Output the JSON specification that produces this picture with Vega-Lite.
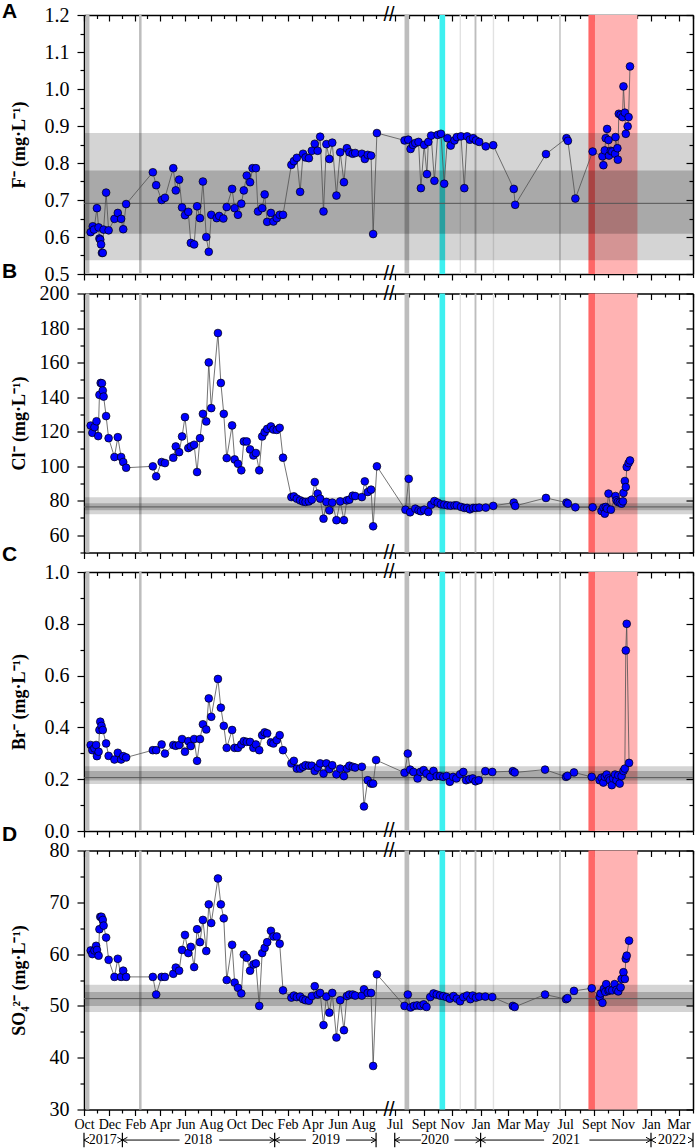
{
"$schema": "https://vega.github.io/schema/vega-lite/v6.json",
"padding": {"left": 2, "top": 1, "right": 4, "bottom": 0},
"config": {
  "view": {"stroke": null},
  "font": "Liberation Serif",
  "axis": {"grid": false, "domainColor": "black", "domainWidth": 1.5, "tickColor": "black", "tickWidth": 1.2, "labelFont": "Liberation Serif", "labelFontSize": 20, "labelColor": "black", "labelPadding": 8, "labelOverlap": false, "labelFlush": false, "labelBound": false, "titleFont": "Liberation Serif", "titleFontSize": 18, "titleFontWeight": "bold", "titleColor": "black"}
},
"datasets": {
"bands": [
 {"start":"2017-10-05","end":"2017-10-14","kind":"gray"},
 {"start":"2018-02-10","end":"2018-02-16","kind":"gray"},
 {"start":"2020-07-22","end":"2020-08-01","kind":"gray"},
 {"start":"2020-10-05","end":"2020-10-17","kind":"cyan"},
 {"start":"2020-11-17","end":"2020-11-20","kind":"faint"},
 {"start":"2020-12-19","end":"2020-12-23","kind":"gray"},
 {"start":"2021-01-27","end":"2021-01-30","kind":"faint"},
 {"start":"2021-06-18","end":"2021-06-22","kind":"light"},
 {"start":"2021-08-20","end":"2021-09-03","kind":"red"},
 {"start":"2021-09-03","end":"2021-12-03","kind":"pink"}
],
"years": [
 {"year":"2017","mid":"2017-11-15"},{"year":"2018","mid":"2018-07-02"},{"year":"2019","mid":"2019-05-04"},
 {"year":"2020","mid":"2020-09-25"},{"year":"2021","mid":"2021-07-03"},{"year":"2022","mid":"2022-02-15"}
],
"arrows": [
 {"tip":"2017-10-01","tail":"2017-10-04","dir":"left"},{"tip":"2018-01-01","tail":"2017-12-29","dir":"right"},
 {"tip":"2018-01-01","tail":"2018-05-18","dir":"left"},{"tip":"2019-01-01","tail":"2018-08-21","dir":"right"},
 {"tip":"2019-01-01","tail":"2019-03-17","dir":"left"},{"tip":"2019-09-01","tail":"2019-06-21","dir":"right"},
 {"tip":"2020-07-01","tail":"2020-08-26","dir":"left"},{"tip":"2021-01-01","tail":"2020-11-06","dir":"right"},
 {"tip":"2021-01-01","tail":"2021-05-17","dir":"left"},{"tip":"2022-01-01","tail":"2021-08-22","dir":"right"},
 {"tip":"2022-01-01","tail":"2022-01-04","dir":"left"},{"tip":"2022-04-01","tail":"2022-03-29","dir":"right"}
],
"bounds": [
 {"at":"2017-10-01"},{"at":"2018-01-01"},{"at":"2019-01-01"},{"at":"2019-09-01"},
 {"at":"2020-07-01"},{"at":"2021-01-01"},{"at":"2022-01-01"},{"at":"2022-04-01"}
],
"F": [
{"date":"2017-10-17","value":0.613},{"date":"2017-10-22","value":0.629},{"date":"2017-10-25","value":0.620},{"date":"2017-11-01","value":0.678},
{"date":"2017-11-05","value":0.626},{"date":"2017-11-07","value":0.596},{"date":"2017-11-09","value":0.593},{"date":"2017-11-11","value":0.580},
{"date":"2017-11-13","value":0.557},{"date":"2017-11-15","value":0.557},{"date":"2017-11-17","value":0.620},{"date":"2017-11-23","value":0.720},
{"date":"2017-11-29","value":0.618},{"date":"2017-12-13","value":0.649},{"date":"2017-12-21","value":0.665},{"date":"2017-12-29","value":0.649},
{"date":"2018-01-03","value":0.621},{"date":"2018-01-10","value":0.689},{"date":"2018-03-15","value":0.775},{"date":"2018-03-23","value":0.740},
{"date":"2018-04-05","value":0.700},{"date":"2018-04-13","value":0.706},{"date":"2018-05-03","value":0.786},{"date":"2018-05-09","value":0.726},
{"date":"2018-05-17","value":0.755},{"date":"2018-05-24","value":0.680},{"date":"2018-05-31","value":0.659},{"date":"2018-06-08","value":0.668},
{"date":"2018-06-14","value":0.584},{"date":"2018-06-22","value":0.580},{"date":"2018-06-29","value":0.683},{"date":"2018-07-06","value":0.651},
{"date":"2018-07-13","value":0.750},{"date":"2018-07-21","value":0.600},{"date":"2018-07-27","value":0.560},{"date":"2018-08-02","value":0.660},
{"date":"2018-08-15","value":0.651},{"date":"2018-08-21","value":0.657},{"date":"2018-08-31","value":0.650},{"date":"2018-09-08","value":0.681},
{"date":"2018-09-21","value":0.730},{"date":"2018-09-27","value":0.678},{"date":"2018-10-05","value":0.660},{"date":"2018-10-13","value":0.690},
{"date":"2018-10-19","value":0.726},{"date":"2018-10-26","value":0.766},{"date":"2018-11-03","value":0.748},{"date":"2018-11-09","value":0.786},
{"date":"2018-11-17","value":0.786},{"date":"2018-11-22","value":0.669},{"date":"2018-12-02","value":0.678},{"date":"2018-12-08","value":0.715},
{"date":"2018-12-14","value":0.641},{"date":"2018-12-23","value":0.665},{"date":"2018-12-29","value":0.642},{"date":"2019-01-06","value":0.651},
{"date":"2019-01-13","value":0.660},{"date":"2019-01-21","value":0.660},{"date":"2019-02-10","value":0.795},{"date":"2019-02-16","value":0.805},
{"date":"2019-02-23","value":0.814},{"date":"2019-03-03","value":0.722},{"date":"2019-03-10","value":0.825},{"date":"2019-03-16","value":0.815},
{"date":"2019-03-24","value":0.813},{"date":"2019-03-31","value":0.833},{"date":"2019-04-07","value":0.852},{"date":"2019-04-14","value":0.833},
{"date":"2019-04-20","value":0.871},{"date":"2019-04-28","value":0.669},{"date":"2019-05-05","value":0.851},{"date":"2019-05-12","value":0.811},
{"date":"2019-05-19","value":0.855},{"date":"2019-05-29","value":0.712},{"date":"2019-06-07","value":0.829},{"date":"2019-06-16","value":0.748},
{"date":"2019-06-23","value":0.840},{"date":"2019-06-29","value":0.829},{"date":"2019-07-07","value":0.825},{"date":"2019-07-13","value":0.827},
{"date":"2019-07-29","value":0.825},{"date":"2019-08-05","value":0.811},{"date":"2019-08-12","value":0.822},{"date":"2019-08-20","value":0.820},
{"date":"2019-08-25","value":0.608},{"date":"2019-09-03","value":0.881},
{"date":"2020-07-22","value":0.861},{"date":"2020-07-30","value":0.863},{"date":"2020-08-04","value":0.838},{"date":"2020-08-09","value":0.849},
{"date":"2020-08-14","value":0.854},{"date":"2020-08-21","value":0.857},{"date":"2020-08-26","value":0.732},{"date":"2020-09-02","value":0.849},
{"date":"2020-09-08","value":0.770},{"date":"2020-09-11","value":0.857},{"date":"2020-09-17","value":0.874},{"date":"2020-09-24","value":0.752},
{"date":"2020-10-01","value":0.876},{"date":"2020-10-08","value":0.879},{"date":"2020-10-15","value":0.744},{"date":"2020-10-22","value":0.867},
{"date":"2020-10-29","value":0.847},{"date":"2020-11-06","value":0.861},{"date":"2020-11-11","value":0.870},{"date":"2020-11-20","value":0.872},
{"date":"2020-11-27","value":0.732},{"date":"2020-12-03","value":0.872},{"date":"2020-12-09","value":0.863},{"date":"2020-12-16","value":0.867},
{"date":"2020-12-22","value":0.861},{"date":"2020-12-29","value":0.857},{"date":"2021-01-12","value":0.845},{"date":"2021-01-28","value":0.848},
{"date":"2021-03-13","value":0.730},{"date":"2021-03-16","value":0.687},{"date":"2021-05-21","value":0.824},{"date":"2021-07-04","value":0.867},
{"date":"2021-07-07","value":0.860},{"date":"2021-07-23","value":0.704},{"date":"2021-08-29","value":0.831},{"date":"2021-09-19","value":0.818},
{"date":"2021-09-21","value":0.794},{"date":"2021-09-24","value":0.834},{"date":"2021-09-26","value":0.867},{"date":"2021-09-29","value":0.892},
{"date":"2021-10-02","value":0.862},{"date":"2021-10-03","value":0.820},{"date":"2021-10-07","value":0.833},{"date":"2021-10-10","value":0.831},
{"date":"2021-10-16","value":0.825},{"date":"2021-10-17","value":0.870},{"date":"2021-10-21","value":0.840},{"date":"2021-10-22","value":0.809},
{"date":"2021-10-24","value":0.933},{"date":"2021-10-28","value":0.930},{"date":"2021-11-01","value":0.924},{"date":"2021-11-03","value":1.007},
{"date":"2021-11-06","value":0.936},{"date":"2021-11-08","value":0.879},{"date":"2021-11-12","value":0.899},{"date":"2021-11-14","value":0.924},
{"date":"2021-11-17","value":1.061}
],
"Cl": [
{"date":"2017-10-17","value":123.5},{"date":"2017-10-21","value":119.3},{"date":"2017-10-26","value":122.6},{"date":"2017-10-31","value":126.0},
{"date":"2017-11-04","value":117.4},{"date":"2017-11-07","value":141.3},{"date":"2017-11-10","value":148.2},{"date":"2017-11-13","value":148.0},
{"date":"2017-11-15","value":143.8},{"date":"2017-11-17","value":140.3},{"date":"2017-11-23","value":129.0},{"date":"2017-11-29","value":116.2},
{"date":"2017-12-13","value":105.3},{"date":"2017-12-21","value":116.8},{"date":"2017-12-29","value":105.3},{"date":"2018-01-03","value":102.4},
{"date":"2018-01-10","value":99.1},{"date":"2018-03-15","value":99.9},{"date":"2018-03-23","value":94.1},{"date":"2018-04-05","value":102.4},
{"date":"2018-04-13","value":101.8},{"date":"2018-05-03","value":104.9},{"date":"2018-05-09","value":111.4},{"date":"2018-05-17","value":108.1},
{"date":"2018-05-24","value":117.2},{"date":"2018-05-31","value":128.4},{"date":"2018-06-08","value":110.5},{"date":"2018-06-14","value":111.4},
{"date":"2018-06-22","value":112.4},{"date":"2018-06-29","value":96.6},{"date":"2018-07-06","value":116.2},{"date":"2018-07-13","value":130.3},
{"date":"2018-07-21","value":125.9},{"date":"2018-07-27","value":160.1},{"date":"2018-08-02","value":133.6},{"date":"2018-08-18","value":177.1},
{"date":"2018-08-25","value":148.2},{"date":"2018-09-01","value":130.3},{"date":"2018-09-08","value":104.7},{"date":"2018-09-21","value":123.6},
{"date":"2018-09-27","value":103.9},{"date":"2018-10-05","value":101.4},{"date":"2018-10-13","value":97.6},{"date":"2018-10-19","value":114.3},
{"date":"2018-10-26","value":114.3},{"date":"2018-11-03","value":109.7},{"date":"2018-11-11","value":106.2},{"date":"2018-11-17","value":107.6},
{"date":"2018-11-25","value":97.6},{"date":"2018-12-02","value":117.2},{"date":"2018-12-08","value":119.7},{"date":"2018-12-14","value":121.6},
{"date":"2018-12-23","value":123.0},{"date":"2018-12-29","value":121.2},{"date":"2019-01-06","value":121.0},{"date":"2019-01-13","value":122.2},
{"date":"2019-01-21","value":104.9},{"date":"2019-02-10","value":82.1},{"date":"2019-02-16","value":82.5},{"date":"2019-02-23","value":81.2},
{"date":"2019-03-03","value":80.2},{"date":"2019-03-10","value":79.5},{"date":"2019-03-16","value":79.3},{"date":"2019-03-24","value":79.6},
{"date":"2019-03-31","value":80.6},{"date":"2019-04-07","value":90.8},{"date":"2019-04-14","value":84.1},{"date":"2019-04-20","value":81.2},
{"date":"2019-04-28","value":69.6},{"date":"2019-05-05","value":79.3},{"date":"2019-05-12","value":74.4},{"date":"2019-05-19","value":78.9},
{"date":"2019-05-29","value":68.7},{"date":"2019-06-07","value":79.6},{"date":"2019-06-16","value":68.7},{"date":"2019-06-23","value":80.2},
{"date":"2019-06-29","value":80.6},{"date":"2019-07-07","value":82.9},{"date":"2019-07-13","value":82.7},{"date":"2019-07-29","value":82.1},
{"date":"2019-08-05","value":91.2},{"date":"2019-08-12","value":85.0},{"date":"2019-08-20","value":86.4},{"date":"2019-08-25","value":65.2},
{"date":"2019-09-03","value":99.9},
{"date":"2020-07-24","value":74.8},{"date":"2020-07-31","value":92.7},{"date":"2020-08-03","value":73.3},{"date":"2020-08-14","value":75.4},
{"date":"2020-08-21","value":74.4},{"date":"2020-08-26","value":73.9},{"date":"2020-09-02","value":74.8},{"date":"2020-09-11","value":73.5},
{"date":"2020-09-17","value":77.7},{"date":"2020-09-24","value":79.8},{"date":"2020-10-01","value":78.9},{"date":"2020-10-08","value":77.9},
{"date":"2020-10-15","value":77.7},{"date":"2020-10-22","value":77.3},{"date":"2020-10-29","value":77.1},{"date":"2020-11-06","value":77.3},
{"date":"2020-11-11","value":77.3},{"date":"2020-11-20","value":76.4},{"date":"2020-11-27","value":75.8},{"date":"2020-12-03","value":75.8},
{"date":"2020-12-09","value":75.0},{"date":"2020-12-16","value":75.8},{"date":"2020-12-22","value":75.8},{"date":"2020-12-29","value":76.0},
{"date":"2021-01-12","value":76.0},{"date":"2021-01-28","value":77.0},{"date":"2021-03-13","value":78.9},{"date":"2021-03-16","value":77.0},
{"date":"2021-05-21","value":81.6},{"date":"2021-07-04","value":78.9},{"date":"2021-07-07","value":78.3},{"date":"2021-07-23","value":76.2},
{"date":"2021-08-29","value":76.2},{"date":"2021-09-17","value":74.0},{"date":"2021-09-21","value":76.0},{"date":"2021-09-24","value":72.5},
{"date":"2021-09-26","value":76.4},{"date":"2021-09-29","value":75.4},{"date":"2021-10-02","value":84.1},{"date":"2021-10-07","value":74.8},
{"date":"2021-10-17","value":82.7},{"date":"2021-10-19","value":80.2},{"date":"2021-10-22","value":79.3},{"date":"2021-10-26","value":78.9},
{"date":"2021-10-30","value":78.3},{"date":"2021-11-02","value":79.6},{"date":"2021-11-03","value":84.5},{"date":"2021-11-06","value":91.4},
{"date":"2021-11-08","value":87.9},{"date":"2021-11-10","value":99.5},{"date":"2021-11-14","value":101.8},{"date":"2021-11-17","value":103.3}
],
"Br": [
{"date":"2017-10-17","value":0.332},{"date":"2017-10-21","value":0.312},{"date":"2017-10-26","value":0.319},{"date":"2017-10-30","value":0.332},
{"date":"2017-11-01","value":0.289},{"date":"2017-11-05","value":0.306},{"date":"2017-11-07","value":0.390},{"date":"2017-11-09","value":0.422},
{"date":"2017-11-12","value":0.406},{"date":"2017-11-15","value":0.390},{"date":"2017-11-23","value":0.338},{"date":"2017-11-29","value":0.290},
{"date":"2017-12-13","value":0.276},{"date":"2017-12-21","value":0.302},{"date":"2017-12-29","value":0.276},{"date":"2018-01-03","value":0.289},
{"date":"2018-01-10","value":0.284},{"date":"2018-03-15","value":0.312},{"date":"2018-03-23","value":0.312},{"date":"2018-04-05","value":0.334},
{"date":"2018-04-13","value":0.299},{"date":"2018-05-03","value":0.332},{"date":"2018-05-09","value":0.329},{"date":"2018-05-17","value":0.332},
{"date":"2018-05-24","value":0.355},{"date":"2018-05-31","value":0.306},{"date":"2018-06-08","value":0.347},{"date":"2018-06-14","value":0.328},
{"date":"2018-06-22","value":0.355},{"date":"2018-06-29","value":0.271},{"date":"2018-07-06","value":0.355},{"date":"2018-07-13","value":0.412},
{"date":"2018-07-21","value":0.392},{"date":"2018-07-27","value":0.512},{"date":"2018-08-02","value":0.441},{"date":"2018-08-18","value":0.587},
{"date":"2018-08-25","value":0.476},{"date":"2018-09-01","value":0.406},{"date":"2018-09-08","value":0.321},{"date":"2018-09-21","value":0.390},
{"date":"2018-09-27","value":0.321},{"date":"2018-10-05","value":0.321},{"date":"2018-10-13","value":0.334},{"date":"2018-10-19","value":0.347},
{"date":"2018-10-26","value":0.344},{"date":"2018-11-03","value":0.344},{"date":"2018-11-11","value":0.321},{"date":"2018-11-17","value":0.334},
{"date":"2018-11-25","value":0.312},{"date":"2018-12-02","value":0.370},{"date":"2018-12-08","value":0.381},{"date":"2018-12-14","value":0.377},
{"date":"2018-12-23","value":0.342},{"date":"2018-12-29","value":0.338},{"date":"2019-01-06","value":0.351},{"date":"2019-01-13","value":0.370},
{"date":"2019-01-21","value":0.312},{"date":"2019-02-10","value":0.261},{"date":"2019-02-16","value":0.271},{"date":"2019-02-23","value":0.241},
{"date":"2019-03-03","value":0.241},{"date":"2019-03-10","value":0.248},{"date":"2019-03-16","value":0.254},{"date":"2019-03-24","value":0.252},
{"date":"2019-03-31","value":0.252},{"date":"2019-04-07","value":0.232},{"date":"2019-04-14","value":0.245},{"date":"2019-04-20","value":0.261},
{"date":"2019-04-28","value":0.222},{"date":"2019-05-05","value":0.261},{"date":"2019-05-12","value":0.239},{"date":"2019-05-19","value":0.254},
{"date":"2019-05-29","value":0.219},{"date":"2019-06-07","value":0.241},{"date":"2019-06-16","value":0.212},{"date":"2019-06-23","value":0.241},
{"date":"2019-06-29","value":0.252},{"date":"2019-07-07","value":0.248},{"date":"2019-07-13","value":0.245},{"date":"2019-07-29","value":0.248},
{"date":"2019-08-03","value":0.095},{"date":"2019-08-12","value":0.196},{"date":"2019-08-20","value":0.183},{"date":"2019-08-25","value":0.183},
{"date":"2019-09-01","value":0.274},
{"date":"2020-07-22","value":0.225},{"date":"2020-07-29","value":0.299},{"date":"2020-08-03","value":0.237},{"date":"2020-08-10","value":0.228},
{"date":"2020-08-19","value":0.203},{"date":"2020-08-25","value":0.228},{"date":"2020-09-01","value":0.235},{"date":"2020-09-07","value":0.222},
{"date":"2020-09-15","value":0.209},{"date":"2020-09-22","value":0.232},{"date":"2020-09-29","value":0.212},{"date":"2020-10-06","value":0.212},
{"date":"2020-10-13","value":0.209},{"date":"2020-10-20","value":0.212},{"date":"2020-10-27","value":0.190},{"date":"2020-11-03","value":0.209},
{"date":"2020-11-10","value":0.203},{"date":"2020-11-18","value":0.219},{"date":"2020-11-25","value":0.228},{"date":"2020-12-01","value":0.196},
{"date":"2020-12-08","value":0.200},{"date":"2020-12-15","value":0.203},{"date":"2020-12-21","value":0.192},{"date":"2020-12-28","value":0.196},
{"date":"2021-01-11","value":0.231},{"date":"2021-01-26","value":0.228},{"date":"2021-03-11","value":0.231},{"date":"2021-03-15","value":0.226},
{"date":"2021-05-19","value":0.237},{"date":"2021-07-03","value":0.209},{"date":"2021-07-06","value":0.213},{"date":"2021-07-20","value":0.226},
{"date":"2021-08-27","value":0.209},{"date":"2021-09-13","value":0.196},{"date":"2021-09-17","value":0.206},{"date":"2021-09-21","value":0.187},
{"date":"2021-09-24","value":0.209},{"date":"2021-09-28","value":0.218},{"date":"2021-10-02","value":0.203},{"date":"2021-10-05","value":0.196},
{"date":"2021-10-09","value":0.177},{"date":"2021-10-12","value":0.203},{"date":"2021-10-16","value":0.218},{"date":"2021-10-19","value":0.196},
{"date":"2021-10-23","value":0.215},{"date":"2021-10-26","value":0.183},{"date":"2021-10-30","value":0.212},{"date":"2021-11-03","value":0.232},
{"date":"2021-11-06","value":0.241},{"date":"2021-11-08","value":0.697},{"date":"2021-11-10","value":0.800},{"date":"2021-11-15","value":0.263}
],
"SO4": [
{"date":"2017-10-17","value":60.7},{"date":"2017-10-21","value":60.0},{"date":"2017-10-26","value":60.7},{"date":"2017-10-30","value":61.6},
{"date":"2017-11-01","value":60.8},{"date":"2017-11-05","value":59.7},{"date":"2017-11-07","value":64.8},{"date":"2017-11-09","value":67.2},
{"date":"2017-11-12","value":67.2},{"date":"2017-11-15","value":66.6},{"date":"2017-11-17","value":65.5},{"date":"2017-11-23","value":63.2},
{"date":"2017-11-29","value":58.9},{"date":"2017-12-13","value":55.6},{"date":"2017-12-21","value":59.1},{"date":"2017-12-29","value":55.6},
{"date":"2018-01-03","value":56.8},{"date":"2018-01-10","value":55.6},{"date":"2018-03-15","value":55.6},{"date":"2018-03-23","value":52.2},
{"date":"2018-04-05","value":55.6},{"date":"2018-04-13","value":55.6},{"date":"2018-05-03","value":56.2},{"date":"2018-05-09","value":57.4},
{"date":"2018-05-17","value":56.8},{"date":"2018-05-24","value":60.8},{"date":"2018-05-31","value":63.7},{"date":"2018-06-08","value":60.2},
{"date":"2018-06-14","value":61.4},{"date":"2018-06-22","value":57.5},{"date":"2018-06-29","value":64.8},{"date":"2018-07-06","value":62.3},
{"date":"2018-07-13","value":66.6},{"date":"2018-07-21","value":60.6},{"date":"2018-07-27","value":69.6},{"date":"2018-08-02","value":66.0},
{"date":"2018-08-18","value":74.6},{"date":"2018-08-25","value":69.6},{"date":"2018-09-01","value":66.9},{"date":"2018-09-08","value":55.0},
{"date":"2018-09-21","value":61.8},{"date":"2018-09-27","value":54.5},{"date":"2018-10-05","value":53.5},{"date":"2018-10-13","value":52.4},
{"date":"2018-10-19","value":59.9},{"date":"2018-10-26","value":59.3},{"date":"2018-11-03","value":56.8},{"date":"2018-11-11","value":58.0},
{"date":"2018-11-17","value":58.2},{"date":"2018-11-25","value":50.0},{"date":"2018-12-02","value":60.2},{"date":"2018-12-08","value":61.2},
{"date":"2018-12-14","value":62.3},{"date":"2018-12-23","value":64.5},{"date":"2018-12-29","value":63.4},{"date":"2019-01-06","value":63.4},
{"date":"2019-01-13","value":62.0},{"date":"2019-01-21","value":53.0},{"date":"2019-02-10","value":51.6},{"date":"2019-02-16","value":52.0},
{"date":"2019-02-23","value":51.7},{"date":"2019-03-03","value":51.8},{"date":"2019-03-10","value":51.3},{"date":"2019-03-16","value":51.1},
{"date":"2019-03-24","value":51.0},{"date":"2019-03-31","value":51.9},{"date":"2019-04-07","value":53.8},{"date":"2019-04-14","value":52.2},
{"date":"2019-04-20","value":52.5},{"date":"2019-04-28","value":46.3},{"date":"2019-05-05","value":51.8},{"date":"2019-05-12","value":48.7},
{"date":"2019-05-19","value":52.5},{"date":"2019-05-29","value":43.9},{"date":"2019-06-07","value":51.1},{"date":"2019-06-16","value":45.3},
{"date":"2019-06-23","value":51.9},{"date":"2019-06-29","value":52.2},{"date":"2019-07-07","value":52.2},{"date":"2019-07-13","value":52.0},
{"date":"2019-07-29","value":52.0},{"date":"2019-08-03","value":53.2},{"date":"2019-08-12","value":52.5},{"date":"2019-08-20","value":52.5},
{"date":"2019-08-25","value":38.4},{"date":"2019-09-03","value":56.1},
{"date":"2020-07-22","value":50.0},{"date":"2020-07-29","value":52.2},{"date":"2020-08-04","value":49.7},{"date":"2020-08-11","value":50.0},
{"date":"2020-08-18","value":50.1},{"date":"2020-08-25","value":50.0},{"date":"2020-09-01","value":50.3},{"date":"2020-09-07","value":49.8},
{"date":"2020-09-15","value":51.7},{"date":"2020-09-22","value":52.4},{"date":"2020-09-29","value":52.2},{"date":"2020-10-06","value":52.0},
{"date":"2020-10-13","value":51.9},{"date":"2020-10-20","value":51.7},{"date":"2020-10-27","value":51.4},{"date":"2020-11-04","value":51.9},
{"date":"2020-11-11","value":51.4},{"date":"2020-11-18","value":50.9},{"date":"2020-11-25","value":51.7},{"date":"2020-12-03","value":52.0},
{"date":"2020-12-10","value":51.3},{"date":"2020-12-15","value":52.0},{"date":"2020-12-22","value":51.6},{"date":"2020-12-29","value":51.8},
{"date":"2021-01-11","value":51.8},{"date":"2021-01-26","value":51.7},{"date":"2021-03-11","value":50.0},{"date":"2021-03-15","value":49.8},
{"date":"2021-05-19","value":52.2},{"date":"2021-07-03","value":51.3},{"date":"2021-07-06","value":51.5},{"date":"2021-07-20","value":52.9},
{"date":"2021-08-27","value":53.4},{"date":"2021-09-13","value":51.7},{"date":"2021-09-15","value":52.4},{"date":"2021-09-19","value":50.6},
{"date":"2021-09-22","value":53.3},{"date":"2021-09-25","value":52.7},{"date":"2021-09-27","value":54.2},{"date":"2021-10-02","value":52.9},
{"date":"2021-10-04","value":53.1},{"date":"2021-10-10","value":53.0},{"date":"2021-10-15","value":54.2},{"date":"2021-10-19","value":53.1},
{"date":"2021-10-23","value":52.8},{"date":"2021-10-28","value":53.6},{"date":"2021-10-30","value":55.2},{"date":"2021-11-03","value":56.5},
{"date":"2021-11-06","value":55.2},{"date":"2021-11-08","value":59.1},{"date":"2021-11-10","value":59.7},{"date":"2021-11-15","value":62.6}
]
},
"spacing": 19.5,
"bounds": "flush",
"vconcat": [
{
 "width": 609, "height": 259,
 "title": {"text": "A", "anchor": "start", "frame": "group", "dx": -82, "dy": 17, "offset": 0, "font": "Liberation Sans", "fontSize": 21, "fontWeight": "bold", "color": "black"},
 "layer": [
  {"data": {"name": "bands"}, "mark": {"type": "rect"}, "encoding": {
    "x": {"field": "start", "type": "temporal", "axis": null}, "x2": {"field": "end"},
    "y": {"datum": 0.5, "type": "quantitative", "axis": null}, "y2": {"datum": 1.2},
    "color": {"field": "kind", "type": "nominal", "legend": null, "scale": {"domain": ["gray","light","faint","cyan","red","pink"], "range": ["#bdbdbd","#cfcfcf","#e2e2e2","#3ef0f0","#ff6666","#ffb3b3"]}}}},
  {"data": {"values": [{}]}, "mark": {"type": "rect", "color": "black", "opacity": 0.17}, "encoding": {
    "x": {"datum": {"year":2017,"month":10,"date":1}, "type": "temporal", "axis": null}, "x2": {"datum": {"year":2022,"month":4,"date":1}},
    "y": {"datum": 0.537, "type": "quantitative", "axis": null}, "y2": {"datum": 0.881}}},
  {"data": {"values": [{}]}, "mark": {"type": "rect", "color": "black", "opacity": 0.2}, "encoding": {
    "x": {"datum": {"year":2017,"month":10,"date":1}, "type": "temporal", "axis": null}, "x2": {"datum": {"year":2022,"month":4,"date":1}},
    "y": {"datum": 0.609, "type": "quantitative", "axis": null}, "y2": {"datum": 0.780}}},
  {"data": {"values": [{}]}, "mark": {"type": "rule", "color": "#555555", "strokeWidth": 1}, "encoding": {
    "x": {"datum": {"year":2017,"month":10,"date":1}, "type": "temporal", "axis": null}, "x2": {"datum": {"year":2022,"month":4,"date":1}},
    "y": {"datum": 0.691, "type": "quantitative", "axis": null}}},
  {"data": {"name": "F"}, "mark": {"type": "line", "color": "#505050", "strokeWidth": 0.8}, "encoding": {
    "x": {"field": "date", "type": "temporal",
      "scale": {"domain": {"expr": "[datetime(2017,9,1), datetime(2019,8,20), datetime(2020,5,8), datetime(2022,3,1)]"}, "range": [0,300,300,609], "nice": false},
      "axis": {"orient": "bottom", "tickCount": {"interval": "month", "step": 1}, "labels": false, "title": null,
        "tickSize": {"condition": {"test": "(year(datum.value) < 2020) == (month(datum.value) % 2 == 1)", "value": 6}, "value": 3.5},
        "tickOpacity": {"condition": {"test": "datum.value > datetime(2019,8,20) && datum.value < datetime(2020,5,8)", "value": 0}, "value": 1}}},
    "y": {"field": "value", "type": "quantitative", "scale": {"domain": [0.5, 1.2], "nice": false, "zero": false},
      "axis": {"orient": "left", "values": [0.5,0.55,0.6,0.65,0.7,0.75,0.8,0.85,0.9,0.95,1,1.05,1.1,1.15,1.2],
        "labelExpr": "abs(datum.value*10-round(datum.value*10))<0.01 ? format(datum.value,'.1f') : ''",
        "tickSize": {"condition": {"test": "abs(datum.value*10-round(datum.value*10))<0.01", "value": 7}, "value": 4},
        "title": "F⁻ (mg·L⁻¹)", "titleX": -56}}}},
  {"data": {"name": "F"}, "mark": {"type": "circle", "color": "#0000ff", "stroke": "black", "strokeWidth": 0.7, "size": 60, "opacity": 1}, "encoding": {
    "x": {"field": "date", "type": "temporal",
      "axis": {"orient": "top", "tickCount": {"interval": "month", "step": 1}, "labels": false, "title": null,
        "tickSize": {"condition": {"test": "(year(datum.value) < 2020) == (month(datum.value) % 2 == 1)", "value": -6}, "value": -3.5},
        "tickOpacity": {"condition": {"test": "datum.value > datetime(2019,8,20) && datum.value < datetime(2020,5,8)", "value": 0}, "value": 1}}},
    "y": {"field": "value", "type": "quantitative",
      "axis": {"orient": "right", "values": [0.5,0.55,0.6,0.65,0.7,0.75,0.8,0.85,0.9,0.95,1,1.05,1.1,1.15,1.2], "labels": false, "title": null,
        "tickSize": {"condition": {"test": "abs(datum.value*10-round(datum.value*10))<0.01", "value": -7}, "value": -4}}}}},
  {"data": {"values": [{}]}, "mark": {"type": "text", "text": "//", "font": "Liberation Sans", "fontSize": 20, "dx": 5, "baseline": "middle", "align": "center", "color": "black"}, "encoding": {
    "x": {"datum": {"year":2020,"month":1,"date":1}, "type": "temporal", "axis": null}, "y": {"datum": 1.2, "type": "quantitative", "axis": null}}},
  {"data": {"values": [{}]}, "mark": {"type": "text", "text": "//", "font": "Liberation Sans", "fontSize": 20, "dx": 5, "baseline": "middle", "align": "center", "color": "black"}, "encoding": {
    "x": {"datum": {"year":2020,"month":1,"date":1}, "type": "temporal", "axis": null}, "y": {"datum": 0.5, "type": "quantitative", "axis": null}}}
 ],
 "resolve": {"axis": {"x": "independent", "y": "independent"}}
},
{
 "width": 609, "height": 259,
 "title": {"text": "B", "anchor": "start", "frame": "group", "dx": -82, "dy": -2, "offset": 0, "font": "Liberation Sans", "fontSize": 21, "fontWeight": "bold", "color": "black"},
 "layer": [
  {"data": {"name": "bands"}, "mark": {"type": "rect"}, "encoding": {
    "x": {"field": "start", "type": "temporal", "axis": null}, "x2": {"field": "end"},
    "y": {"datum": 50, "type": "quantitative", "axis": null}, "y2": {"datum": 200},
    "color": {"field": "kind", "type": "nominal", "legend": null, "scale": {"domain": ["gray","light","faint","cyan","red","pink"], "range": ["#bdbdbd","#cfcfcf","#e2e2e2","#3ef0f0","#ff6666","#ffb3b3"]}}}},
  {"data": {"values": [{}]}, "mark": {"type": "rect", "color": "black", "opacity": 0.17}, "encoding": {
    "x": {"datum": {"year":2017,"month":10,"date":1}, "type": "temporal", "axis": null}, "x2": {"datum": {"year":2022,"month":4,"date":1}},
    "y": {"datum": 72.1, "type": "quantitative", "axis": null}, "y2": {"datum": 82.0}}},
  {"data": {"values": [{}]}, "mark": {"type": "rect", "color": "black", "opacity": 0.2}, "encoding": {
    "x": {"datum": {"year":2017,"month":10,"date":1}, "type": "temporal", "axis": null}, "x2": {"datum": {"year":2022,"month":4,"date":1}},
    "y": {"datum": 74.4, "type": "quantitative", "axis": null}, "y2": {"datum": 78.5}}},
  {"data": {"values": [{}]}, "mark": {"type": "rule", "color": "#555555", "strokeWidth": 1}, "encoding": {
    "x": {"datum": {"year":2017,"month":10,"date":1}, "type": "temporal", "axis": null}, "x2": {"datum": {"year":2022,"month":4,"date":1}},
    "y": {"datum": 76.4, "type": "quantitative", "axis": null}}},
  {"data": {"name": "Cl"}, "mark": {"type": "line", "color": "#505050", "strokeWidth": 0.8}, "encoding": {
    "x": {"field": "date", "type": "temporal",
      "scale": {"domain": {"expr": "[datetime(2017,9,1), datetime(2019,8,20), datetime(2020,5,8), datetime(2022,3,1)]"}, "range": [0,300,300,609], "nice": false},
      "axis": {"orient": "bottom", "tickCount": {"interval": "month", "step": 1}, "labels": false, "title": null,
        "tickSize": {"condition": {"test": "(year(datum.value) < 2020) == (month(datum.value) % 2 == 1)", "value": 6}, "value": 3.5},
        "tickOpacity": {"condition": {"test": "datum.value > datetime(2019,8,20) && datum.value < datetime(2020,5,8)", "value": 0}, "value": 1}}},
    "y": {"field": "value", "type": "quantitative", "scale": {"domain": [50, 200], "nice": false, "zero": false},
      "axis": {"orient": "left", "values": [50,60,70,80,90,100,110,120,130,140,150,160,170,180,190,200],
        "labelExpr": "datum.value % 20 == 0 ? datum.label : ''",
        "tickSize": {"condition": {"test": "datum.value % 20 == 0", "value": 7}, "value": 4},
        "title": "Cl⁻ (mg·L⁻¹)", "titleX": -56}}}},
  {"data": {"name": "Cl"}, "mark": {"type": "circle", "color": "#0000ff", "stroke": "black", "strokeWidth": 0.7, "size": 60, "opacity": 1}, "encoding": {
    "x": {"field": "date", "type": "temporal",
      "axis": {"orient": "top", "tickCount": {"interval": "month", "step": 1}, "labels": false, "title": null,
        "tickSize": {"condition": {"test": "(year(datum.value) < 2020) == (month(datum.value) % 2 == 1)", "value": -6}, "value": -3.5},
        "tickOpacity": {"condition": {"test": "datum.value > datetime(2019,8,20) && datum.value < datetime(2020,5,8)", "value": 0}, "value": 1}}},
    "y": {"field": "value", "type": "quantitative",
      "axis": {"orient": "right", "values": [50,60,70,80,90,100,110,120,130,140,150,160,170,180,190,200], "labels": false, "title": null,
        "tickSize": {"condition": {"test": "datum.value % 20 == 0", "value": -7}, "value": -4}}}}},
  {"data": {"values": [{}]}, "mark": {"type": "text", "text": "//", "font": "Liberation Sans", "fontSize": 20, "dx": 5, "baseline": "middle", "align": "center", "color": "black"}, "encoding": {
    "x": {"datum": {"year":2020,"month":1,"date":1}, "type": "temporal", "axis": null}, "y": {"datum": 200, "type": "quantitative", "axis": null}}},
  {"data": {"values": [{}]}, "mark": {"type": "text", "text": "//", "font": "Liberation Sans", "fontSize": 20, "dx": 5, "baseline": "middle", "align": "center", "color": "black"}, "encoding": {
    "x": {"datum": {"year":2020,"month":1,"date":1}, "type": "temporal", "axis": null}, "y": {"datum": 50, "type": "quantitative", "axis": null}}}
 ],
 "resolve": {"axis": {"x": "independent", "y": "independent"}}
},
{
 "width": 609, "height": 259,
 "title": {"text": "C", "anchor": "start", "frame": "group", "dx": -82, "dy": 3, "offset": 0, "font": "Liberation Sans", "fontSize": 21, "fontWeight": "bold", "color": "black"},
 "layer": [
  {"data": {"name": "bands"}, "mark": {"type": "rect"}, "encoding": {
    "x": {"field": "start", "type": "temporal", "axis": null}, "x2": {"field": "end"},
    "y": {"datum": 0, "type": "quantitative", "axis": null}, "y2": {"datum": 1},
    "color": {"field": "kind", "type": "nominal", "legend": null, "scale": {"domain": ["gray","light","faint","cyan","red","pink"], "range": ["#bdbdbd","#cfcfcf","#e2e2e2","#3ef0f0","#ff6666","#ffb3b3"]}}}},
  {"data": {"values": [{}]}, "mark": {"type": "rect", "color": "black", "opacity": 0.17}, "encoding": {
    "x": {"datum": {"year":2017,"month":10,"date":1}, "type": "temporal", "axis": null}, "x2": {"datum": {"year":2022,"month":4,"date":1}},
    "y": {"datum": 0.181, "type": "quantitative", "axis": null}, "y2": {"datum": 0.250}}},
  {"data": {"values": [{}]}, "mark": {"type": "rect", "color": "black", "opacity": 0.2}, "encoding": {
    "x": {"datum": {"year":2017,"month":10,"date":1}, "type": "temporal", "axis": null}, "x2": {"datum": {"year":2022,"month":4,"date":1}},
    "y": {"datum": 0.195, "type": "quantitative", "axis": null}, "y2": {"datum": 0.232}}},
  {"data": {"values": [{}]}, "mark": {"type": "rule", "color": "#555555", "strokeWidth": 1}, "encoding": {
    "x": {"datum": {"year":2017,"month":10,"date":1}, "type": "temporal", "axis": null}, "x2": {"datum": {"year":2022,"month":4,"date":1}},
    "y": {"datum": 0.206, "type": "quantitative", "axis": null}}},
  {"data": {"name": "Br"}, "mark": {"type": "line", "color": "#505050", "strokeWidth": 0.8}, "encoding": {
    "x": {"field": "date", "type": "temporal",
      "scale": {"domain": {"expr": "[datetime(2017,9,1), datetime(2019,8,20), datetime(2020,5,8), datetime(2022,3,1)]"}, "range": [0,300,300,609], "nice": false},
      "axis": {"orient": "bottom", "tickCount": {"interval": "month", "step": 1}, "labels": false, "title": null,
        "tickSize": {"condition": {"test": "(year(datum.value) < 2020) == (month(datum.value) % 2 == 1)", "value": 6}, "value": 3.5},
        "tickOpacity": {"condition": {"test": "datum.value > datetime(2019,8,20) && datum.value < datetime(2020,5,8)", "value": 0}, "value": 1}}},
    "y": {"field": "value", "type": "quantitative", "scale": {"domain": [0, 1], "nice": false, "zero": false},
      "axis": {"orient": "left", "values": [0,0.1,0.2,0.3,0.4,0.5,0.6,0.7,0.8,0.9,1],
        "labelExpr": "abs(datum.value*5-round(datum.value*5))<0.01 ? format(datum.value,'.1f') : ''",
        "tickSize": {"condition": {"test": "abs(datum.value*5-round(datum.value*5))<0.01", "value": 7}, "value": 4},
        "title": "Br⁻ (mg·L⁻¹)", "titleX": -56}}}},
  {"data": {"name": "Br"}, "mark": {"type": "circle", "color": "#0000ff", "stroke": "black", "strokeWidth": 0.7, "size": 60, "opacity": 1}, "encoding": {
    "x": {"field": "date", "type": "temporal",
      "axis": {"orient": "top", "tickCount": {"interval": "month", "step": 1}, "labels": false, "title": null,
        "tickSize": {"condition": {"test": "(year(datum.value) < 2020) == (month(datum.value) % 2 == 1)", "value": -6}, "value": -3.5},
        "tickOpacity": {"condition": {"test": "datum.value > datetime(2019,8,20) && datum.value < datetime(2020,5,8)", "value": 0}, "value": 1}}},
    "y": {"field": "value", "type": "quantitative",
      "axis": {"orient": "right", "values": [0,0.1,0.2,0.3,0.4,0.5,0.6,0.7,0.8,0.9,1], "labels": false, "title": null,
        "tickSize": {"condition": {"test": "abs(datum.value*5-round(datum.value*5))<0.01", "value": -7}, "value": -4}}}}},
  {"data": {"values": [{}]}, "mark": {"type": "text", "text": "//", "font": "Liberation Sans", "fontSize": 20, "dx": 5, "baseline": "middle", "align": "center", "color": "black"}, "encoding": {
    "x": {"datum": {"year":2020,"month":1,"date":1}, "type": "temporal", "axis": null}, "y": {"datum": 1, "type": "quantitative", "axis": null}}},
  {"data": {"values": [{}]}, "mark": {"type": "text", "text": "//", "font": "Liberation Sans", "fontSize": 20, "dx": 5, "baseline": "middle", "align": "center", "color": "black"}, "encoding": {
    "x": {"datum": {"year":2020,"month":1,"date":1}, "type": "temporal", "axis": null}, "y": {"datum": 0, "type": "quantitative", "axis": null}}}
 ],
 "resolve": {"axis": {"x": "independent", "y": "independent"}}
},
{
 "width": 609, "height": 259,
 "title": {"text": "D", "anchor": "start", "frame": "group", "dx": -82, "dy": 4, "offset": 0, "font": "Liberation Sans", "fontSize": 21, "fontWeight": "bold", "color": "black"},
 "layer": [
  {"data": {"name": "bands"}, "mark": {"type": "rect"}, "encoding": {
    "x": {"field": "start", "type": "temporal", "axis": null}, "x2": {"field": "end"},
    "y": {"datum": 30, "type": "quantitative", "axis": null}, "y2": {"datum": 80},
    "color": {"field": "kind", "type": "nominal", "legend": null, "scale": {"domain": ["gray","light","faint","cyan","red","pink"], "range": ["#bdbdbd","#cfcfcf","#e2e2e2","#3ef0f0","#ff6666","#ffb3b3"]}}}},
  {"data": {"values": [{}]}, "mark": {"type": "rect", "color": "black", "opacity": 0.17}, "encoding": {
    "x": {"datum": {"year":2017,"month":10,"date":1}, "type": "temporal", "axis": null}, "x2": {"datum": {"year":2022,"month":4,"date":1}},
    "y": {"datum": 48.8, "type": "quantitative", "axis": null}, "y2": {"datum": 54.1}}},
  {"data": {"values": [{}]}, "mark": {"type": "rect", "color": "black", "opacity": 0.2}, "encoding": {
    "x": {"datum": {"year":2017,"month":10,"date":1}, "type": "temporal", "axis": null}, "x2": {"datum": {"year":2022,"month":4,"date":1}},
    "y": {"datum": 50.0, "type": "quantitative", "axis": null}, "y2": {"datum": 52.7}}},
  {"data": {"values": [{}]}, "mark": {"type": "rule", "color": "#555555", "strokeWidth": 1}, "encoding": {
    "x": {"datum": {"year":2017,"month":10,"date":1}, "type": "temporal", "axis": null}, "x2": {"datum": {"year":2022,"month":4,"date":1}},
    "y": {"datum": 51.4, "type": "quantitative", "axis": null}}},
  {"data": {"name": "SO4"}, "mark": {"type": "line", "color": "#505050", "strokeWidth": 0.8}, "encoding": {
    "x": {"field": "date", "type": "temporal",
      "scale": {"domain": {"expr": "[datetime(2017,9,1), datetime(2019,8,20), datetime(2020,5,8), datetime(2022,3,1)]"}, "range": [0,300,300,609], "nice": false},
      "axis": {"orient": "bottom", "tickCount": {"interval": "month", "step": 1}, "title": null, "labelFontSize": 14, "labelPadding": 2,
        "labelExpr": "(datum.value > datetime(2019,8,20) && datum.value < datetime(2020,5,8)) ? '' : (((year(datum.value) < 2020) == (month(datum.value) % 2 == 1)) ? (month(datum.value) == 8 ? 'Sept' : timeFormat(datum.value, '%b')) : '')",
        "tickSize": {"condition": {"test": "(year(datum.value) < 2020) == (month(datum.value) % 2 == 1)", "value": 6}, "value": 3.5},
        "tickOpacity": {"condition": {"test": "datum.value > datetime(2019,8,20) && datum.value < datetime(2020,5,8)", "value": 0}, "value": 1}}},
    "y": {"field": "value", "type": "quantitative", "scale": {"domain": [30, 80], "nice": false, "zero": false},
      "axis": {"orient": "left", "values": [30,35,40,45,50,55,60,65,70,75,80],
        "labelExpr": "datum.value % 10 == 0 ? datum.label : ''",
        "tickSize": {"condition": {"test": "datum.value % 10 == 0", "value": 7}, "value": 4},
        "title": "SO₄²⁻ (mg·L⁻¹)", "titleX": -56}}}},
  {"data": {"name": "SO4"}, "mark": {"type": "circle", "color": "#0000ff", "stroke": "black", "strokeWidth": 0.7, "size": 60, "opacity": 1}, "encoding": {
    "x": {"field": "date", "type": "temporal",
      "axis": {"orient": "top", "tickCount": {"interval": "month", "step": 1}, "labels": false, "title": null,
        "tickSize": {"condition": {"test": "(year(datum.value) < 2020) == (month(datum.value) % 2 == 1)", "value": -6}, "value": -3.5},
        "tickOpacity": {"condition": {"test": "datum.value > datetime(2019,8,20) && datum.value < datetime(2020,5,8)", "value": 0}, "value": 1}}},
    "y": {"field": "value", "type": "quantitative",
      "axis": {"orient": "right", "values": [30,35,40,45,50,55,60,65,70,75,80], "labels": false, "title": null,
        "tickSize": {"condition": {"test": "datum.value % 10 == 0", "value": -7}, "value": -4}}}}},
  {"data": {"values": [{}]}, "mark": {"type": "text", "text": "//", "font": "Liberation Sans", "fontSize": 20, "dx": 5, "baseline": "middle", "align": "center", "color": "black"}, "encoding": {
    "x": {"datum": {"year":2020,"month":1,"date":1}, "type": "temporal", "axis": null}, "y": {"datum": 80, "type": "quantitative", "axis": null}}},
  {"data": {"values": [{}]}, "mark": {"type": "text", "text": "//", "font": "Liberation Sans", "fontSize": 20, "dx": 5, "baseline": "middle", "align": "center", "color": "black"}, "encoding": {
    "x": {"datum": {"year":2020,"month":1,"date":1}, "type": "temporal", "axis": null}, "y": {"datum": 30, "type": "quantitative", "axis": null}}},
  {"data": {"name": "bounds"}, "mark": {"type": "rule", "color": "black", "strokeWidth": 1.2}, "encoding": {
    "x": {"field": "at", "type": "temporal", "axis": null},
    "y": {"datum": 25.5, "type": "quantitative", "axis": null}, "y2": {"datum": 22.7}}},
  {"data": {"name": "arrows"}, "mark": {"type": "rule", "color": "black", "strokeWidth": 1}, "encoding": {
    "x": {"field": "tip", "type": "temporal", "axis": null}, "x2": {"field": "tail"},
    "y": {"datum": 24.1, "type": "quantitative", "axis": null}}},
  {"data": {"name": "arrows"}, "mark": {"type": "point", "filled": false, "color": "black", "strokeWidth": 1, "size": 100, "opacity": 1}, "encoding": {
    "x": {"field": "tip", "type": "temporal", "axis": null},
    "y": {"datum": 24.1, "type": "quantitative", "axis": null},
    "shape": {"field": "dir", "type": "nominal", "legend": null, "scale": {"domain": ["left","right"], "range": ["M1,-0.55L0,0L1,0.55", "M-1,-0.55L0,0L-1,0.55"]}}}},
  {"data": {"name": "years"}, "mark": {"type": "text", "font": "Liberation Serif", "fontSize": 14, "baseline": "middle", "align": "center", "color": "black"}, "encoding": {
    "x": {"field": "mid", "type": "temporal", "axis": null},
    "y": {"datum": 24.1, "type": "quantitative", "axis": null},
    "text": {"field": "year", "type": "nominal"}}}
 ],
 "resolve": {"axis": {"x": "independent", "y": "independent"}}
}
]
}
